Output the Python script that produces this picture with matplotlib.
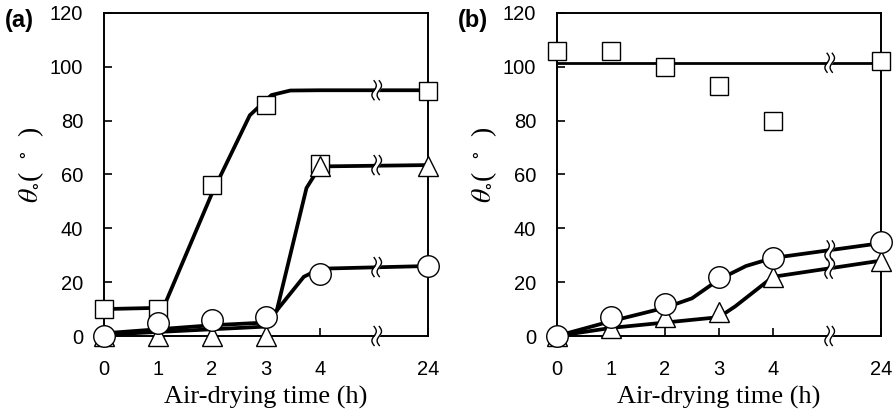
import numpy as np
import matplotlib
matplotlib.use("Agg")
import matplotlib.pyplot as plt

# ---------------- data ----------------
tick_labels = ["0", "1", "2", "3", "4", "24"]
tick_pos = [0, 1, 2, 3, 4, 6]          # 24 h is placed after an axis break
break_pos = 5.05

# panel (a) markers
a_sq_x = [0, 1, 2, 3, 4, 6];  a_sq_y = [10, 10, 56, 86, 64, 91]
a_tr_x = [0, 1, 2, 3, 4, 6];  a_tr_y = [0, 0, 0, 0, 63, 63]
a_ci_x = [0, 1, 2, 3, 4, 6];  a_ci_y = [0, 5, 6, 7, 23, 26]
# panel (a) fitted curves
a_sq_lx = [0, 1.1, 2, 2.7, 3.1, 3.45, 4, 6]
a_sq_ly = [10, 10.5, 53, 82, 89.5, 91.2, 91.3, 91.3]
a_tr_lx = [0, 1, 2, 3, 3.2, 3.75, 4, 6]
a_tr_ly = [0.5, 1.5, 2.5, 3.5, 9.5, 55, 63, 63.5]
a_ci_lx = [0, 1, 2, 3, 3.2, 3.7, 4, 6]
a_ci_ly = [1, 2.5, 4, 5, 9.5, 22, 25, 26]

# panel (b) markers
b_sq_x = [0, 1, 2, 3, 4, 6];  b_sq_y = [106, 106, 100, 93, 80, 102]
b_tr_x = [0, 1, 2, 3, 4, 6];  b_tr_y = [0, 3, 7, 9, 22, 28]
b_ci_x = [0, 1, 2, 3, 4, 6];  b_ci_y = [0, 7, 12, 22, 29, 35]
# panel (b) fitted curves
b_sq_lx = [0, 6];  b_sq_ly = [101.5, 101.5]
b_tr_lx = [0, 1, 2, 3, 3.3, 4, 6]
b_tr_ly = [0, 3, 5, 7, 11, 22, 28]
b_ci_lx = [0, 1, 2, 2.5, 3, 3.5, 4, 6]
b_ci_ly = [0, 5.5, 10.5, 14, 21, 26, 29, 34.5]

W, H = 895, 419
plt.rcParams["mathtext.fontset"] = "stix"
fig = plt.figure(figsize=(W / 100, H / 100), dpi=100)

def px_axes(l, r, t, b):
    return [l / W, 1 - b / H, (r - l) / W, (b - t) / H]

ax_a = fig.add_axes(px_axes(104, 428, 13, 336))
ax_b = fig.add_axes(px_axes(557, 881, 13, 336))

mk = dict(ls="none", mfc="white", mec="black", mew=1.0, clip_on=False, zorder=5)
MS_SQ, MS_TR, MS_CI = 13, 14, 15.5
LW = 2.7


def draw_break(ax, x, y):
    # two small vertical S-shaped strokes; sizes in pixels converted to data units
    bb = ax.get_position()
    x0, x1 = ax.get_xlim(); y0, y1 = ax.get_ylim()
    pxx = bb.width * W / (x1 - x0)
    pxy = bb.height * H / (y1 - y0)
    t = np.linspace(-1, 1, 50)
    hh = 9.5 / pxy
    ww = 2.2 / pxx
    sep = 2.6 / pxx
    wav = ww * np.sin(np.pi * t)
    ax.fill_betweenx(y + hh * t, x - sep + wav, x + sep + wav,
                     color="white", zorder=3.5, lw=0, clip_on=False)
    for off in (-sep, sep):
        ax.plot(x + off + wav, y + hh * t, color="black", lw=1.0, zorder=4, clip_on=False)


def setup(ax, label):
    ax.set_xlim(0, 6)
    ax.set_ylim(0, 120)
    ax.set_xticks(tick_pos)
    ax.set_xticklabels(tick_labels)
    ax.set_yticks(range(0, 121, 20))
    ax.tick_params(axis="both", direction="in", length=6, width=1.2, labelsize=14.5)
    ax.tick_params(axis="x", pad=17)
    ax.tick_params(axis="y", pad=15)
    for lab in ax.get_xticklabels() + ax.get_yticklabels():
        lab.set_fontfamily("Liberation Sans")
    for s in ax.spines.values():
        s.set_linewidth(1.4)
    ax.set_xlabel("Air-drying time (h)", fontfamily="Liberation Serif", fontsize=19)
    ax.xaxis.set_label_coords(0.5, -0.155)
    ax.set_ylabel(r"$\theta_{\circ}$(  $^{\circ}$  )", fontsize=20,
                  fontfamily="Liberation Serif")
    ax.yaxis.set_label_coords(-0.18, 0.53)
    bb = ax.get_position()
    fig.text(bb.x0 - 99 / W, 1 - 21 / H, label, fontsize=17, fontweight="bold",
             fontfamily="Liberation Sans", ha="left", va="center")


# ----- panel (a) -----
setup(ax_a, "(a)")
for lx, ly in ((a_sq_lx, a_sq_ly), (a_tr_lx, a_tr_ly), (a_ci_lx, a_ci_ly)):
    ax_a.plot(lx, ly, color="black", lw=LW, zorder=3, solid_joinstyle="round")
for y in (91.3, 63.5, 25.6, 0):
    draw_break(ax_a, break_pos, y)
ax_a.plot(a_sq_x, a_sq_y, marker="s", ms=MS_SQ, **mk)
ax_a.plot(a_tr_x, a_tr_y, marker="^", ms=MS_TR, **mk)
ax_a.plot(a_ci_x, a_ci_y, marker="o", ms=MS_CI, **mk)

# ----- panel (b) -----
setup(ax_b, "(b)")
ax_b.plot(b_sq_lx, b_sq_ly, color="black", lw=2.0, zorder=3)
for lx, ly in ((b_tr_lx, b_tr_ly), (b_ci_lx, b_ci_ly)):
    ax_b.plot(lx, ly, color="black", lw=LW, zorder=3, solid_joinstyle="round")
for y in (101.5, 31.8, 25.0, 0):
    draw_break(ax_b, break_pos, y)
ax_b.plot(b_sq_x, b_sq_y, marker="s", ms=MS_SQ, **mk)
ax_b.plot(b_tr_x, b_tr_y, marker="^", ms=MS_TR, **mk)
ax_b.plot(b_ci_x, b_ci_y, marker="o", ms=MS_CI, **mk)

fig.savefig("out.png", dpi=100)
